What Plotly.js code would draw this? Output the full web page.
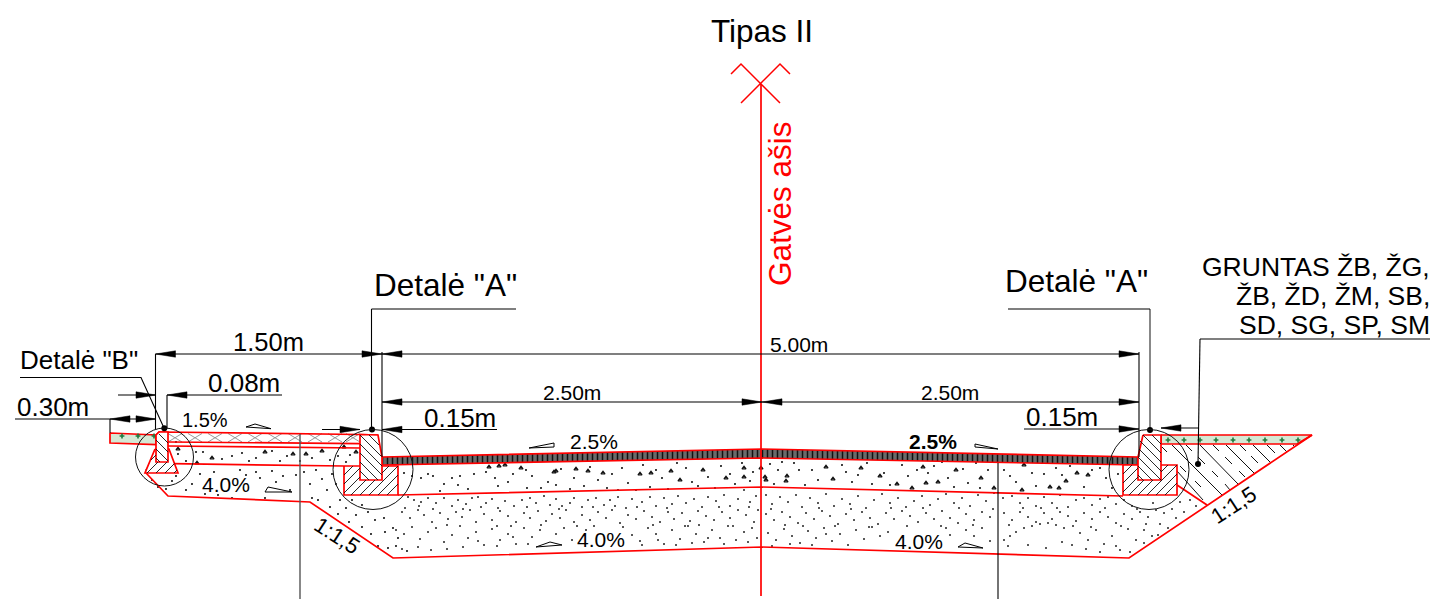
<!DOCTYPE html>
<html><head><meta charset="utf-8">
<script src="https://cdn.plot.ly/plotly-3.0.1.min.js"></script>
<style>html,body{margin:0;padding:0;background:#fff}</style></head>
<body><div id="chart" style="width:1436px;height:599px"></div>
<script>
// Outlines
const outerProfile=[[146,473],[168,496],[310,502],[393,558],[762,547],[1129,558],[1312,435]];
const baseDivider=[[398,495],[762,487],[1123,496]];
const sidewalkTop=[[156,435],[159,432],[360,434.5],[378,435]];
const sidewalkLayer1=[[168,442],[360,443.6]];
const sidewalkLayer2=[[168,446],[360,448]];
const sidewalkLayer3=[[172,463.7],[344,466]];
const rightToe=[[1177,485],[1207,505]];
const roadSurface=[[382,457],[762,449],[1138,457],[1138,465],[762,458],[382,465],[382,457]];
const greenLeft=[[110,433],[156,435],[156,444.5],[110,443],[110,433]];
const greenRight=[[1161,435],[1312,435],[1297,444],[1161,444],[1161,435]];
const curbBBase=[[155,449],[145,473],[178,473],[169,449],[155,449]];
const curbB=[[156,435],[159,432],[168,432],[168,462],[156,462],[156,435]];
const curbABaseL=[[344,466],[398,466],[398,495],[344,495],[344,466]];
const curbAL=[[360,434.5],[378,435],[382,457],[382,480],[360,480],[360,434.5]];
const curbABaseR=[[1123,465],[1177,465],[1177,495],[1123,495],[1123,465]];
const curbAR=[[1143,435],[1161,435],[1161,480],[1138,480],[1138,457],[1143,435]];
const axisLine=[[761,84],[761,596]];
const axisCrossA=[[731,74],[741,64],[780,103]];
const axisCrossB=[[741,103],[780,64],[790,74]];
const curbHatch=[
 [[369,435],[379,445]],[[360,435],[381,456]],[[360,444],[382,466]],[[360,453],[382,475]],[[360,462],[378,480]],[[360,471],[369,480]],
 [[344,475],[353,466]],[[344,484],[360,468]],[[344,493],[360,477]],[[351,495],[366,480]],[[360,495],[375,480]],[[369,495],[398,466]],[[378,495],[398,475]],[[387,495],[398,484]],[[382,473],[389,466]],
 [[1152,435],[1161,444]],[[1143,435],[1161,453]],[[1140,441],[1161,462]],[[1139,449],[1161,471]],[[1138,457],[1161,480]],[[1138,466],[1152,480]],[[1138,475],[1143,480]],
 [[1123,474],[1132,465]],[[1123,483],[1138,468]],[[1123,492],[1138,477]],[[1129,495],[1144,480]],[[1138,495],[1153,480]],[[1147,495],[1177,465]],[[1156,495],[1177,474]],[[1165,495],[1177,483]],[[1161,472],[1168,465]],
 [[159,434],[168,443]],[[156,440],[168,452]],[[156,449],[168,461]],[[156,458],[160,462]],
 [[151,460],[156,455]],[[147,473],[158,462]],[[156,473],[167,462]],[[165,473],[174.5,463.5]],[[174,473],[177,470]]
];

const blackLines=[
 [[155.5,354],[382,354]],[[382,354],[1139,354]],[[382,402],[1139,402]],
 [[155.5,354],[155.5,429]],[[382,352],[382,457]],[[1139,352],[1139,457]],
 [[371.5,309],[516,309]],[[371.5,309],[371.5,430]],
 [[322,429.5],[360,429.5]],[[382,429.5],[497,429.5]],
 [[118,395],[156,395]],[[167,395],[282,395]],[[167,395],[167,428]],
 [[15,419],[156,419]],[[110,419],[110,433]],
 [[20,377.5],[141,377.5],[164,428]],
 [[1024,429],[1139,429]],[[1161,428],[1199,428]],
 [[1008,309],[1150,309]],[[1200,339],[1430,339]],[[1200,339],[1198,464]],
 [[998,463],[998,599]]
];
const greyLines=[[[300,434],[300,599]],[[1150,309],[1150,430]]];
const arrowTipX=[155.5,382,382,1139,382,762,762,1139,360,382,156,167,110,156,1139,1161];
const arrowY=[354,354,354,354,402,402,402,402,429.5,429.5,395,395,419,419,429,428];
const arrowDir=[1,-1,1,-1,1,-1,1,-1,-1,1,-1,1,1,-1,-1,1];
const blackDots=[[164.3,428.3],[372,429.5],[1150,430],[1198,464]];
const circles=[[164.5,457,29],[373,469.5,40],[1149,469.5,40]];
const slopeMarks=[
 [[529,448],[554,443],[554,447],[529,448]],[[975,444],[998,449],[975,447],[975,444]],
 [[246,427],[271,428.7],[255,424],[246,427]],[[265,492],[292,492],[268,487],[265,492]],
 [[536,547],[562,545],[550,542],[536,547]],[[958,547],[983,548],[965,543],[958,547]]
];
const soilSolid=[
 [[1177,471],[1203,500]],[[1172,445],[1222,495]],[[1200,445],[1238,484]],
 [[1226,445],[1254,473]],[[1253,445],[1270,462]],[[1280,445],[1287,452]]
];
const soilDash=[
 [[1162,447],[1167,452]],[[1180,466],[1186,472]],[[1195,481],[1201,487]],
 [[1186,445],[1192,451]],[[1198,457],[1205,464]],[[1212,471],[1218,477]],[[1225,484],[1230,490]],
 [[1213,445],[1219,451]],[[1225,457],[1232,464]],[[1239,471],[1245,477]],
 [[1240,445],[1246,451]],[[1251,456],[1258,463]],[[1267,445],[1275,453]],[[1293,445],[1295,447]]
];
const crossCentres=[175,195,215,235,255,275,295,315,335,353];
const greenMarksX=[122,138,154,1168,1184,1200,1216,1233,1249,1265,1282,1298];
const greenMarksY=[436,436,436,440,440,440,440,440,440,440,440,440];

const coarseTriangles=[
 [489,467],[499,466],[505,465],[521,468],[554,472],[556,471],[576,469],[588,471],[603,473],[640,474],[651,473],[671,471],[703,470],
 [680,480],[726,478],[744,477],[761,468],[765,477],[766,480],[744,468],[787,476],[786,481],[833,479],[861,468],[880,476],[923,467],[938,482],
 [826,467],[897,484],[912,488],[926,483],[956,470],[981,478],[994,488],[1024,465],[1022,490],[1050,487],[1059,488],[1077,473],[1088,475],[1066,481],
 [197,463],[212,458],[265,452],[293,454],[306,454],[344,447],[356,452],[322,451],[178,449],[148,469]
];
const coarseDots=[
 [404,473],[412,476],[421,478],[428,474],[433,476],[440,491],[444,484],[452,478],[460,476],[458,485],[468,489],[474,474],[486,472],[495,478],[498,486],[508,482],[513,474],[526,470],[527,488],[532,476],[541,488],[548,482],[556,485],[561,469],[570,489],[574,478],[584,486],[590,467],[598,480],[607,488],[612,474],[618,490],[622,468],[628,483],[636,490],[643,465],[650,487],[656,470],[662,478],[668,489],[677,463],[686,468],[692,482],[698,486],[708,477],[715,488],[721,466],[730,474],[735,484],[742,463],[750,481],[753,472],[770,464],[774,484],[778,470],[782,462],[794,463],[799,470],[805,485],[812,470],[818,480],[842,465],[846,472],[852,482],[858,475],[867,463],[872,484],[884,473],[890,485],[902,465],[908,476],[917,470],[928,473],[934,466],[942,462],[948,478],[954,487],[963,469],[968,483],[976,463],[980,488],[988,470],[1004,470],[1010,476],[1016,482],[1032,473],[1036,486],[1044,474],[1056,468],[1062,475],[1070,466],[1084,487],[1092,470],[1100,468],[1106,478],[1112,488],[1118,474],
 [178,454],[186,461],[203,452],[222,459],[232,456],[242,453],[249,461],[256,458],[272,451],[280,461],[287,456],[300,461],[312,458],[330,460],[338,456],[346,462],[350,455],[176,442],[196,452],
 [152,480],[158,487],[166,489],[172,481],[176,476],[186,490],[192,484],[200,474],[205,494],[214,472],[218,495],[232,498],[240,470],[246,475],[256,472],[260,478],[265,498],[272,471],[276,482],[283,476],[290,490],[296,475],[304,472],[310,484],[316,470],[322,479],[327,490],[332,474],[336,484],[318,500],[340,500],[330,507],[312,498],[352,500],[346,508],[338,514],[362,505],[356,515],[349,522],[368,512],[375,520],[362,527],[384,518],[371,534],[385,532],[393,528],[378,546],[388,548],[396,546],[407,551],[398,538]
];
const fineDots=[
 [408,497],[414,500],[421,502],[428,498],[436,503],[444,498],[452,506],[458,500],[466,504],[472,498],[478,497],[486,503],[492,499],[498,508],[505,501],[514,506],[522,500],[530,498],[536,503],[544,496],[550,505],[556,499],[562,506],[570,503],[574,498],[582,507],[588,500],[596,498],[604,505],[610,500],[618,497],[626,508],[632,499],[642,502],[650,497],[656,506],[664,498],[672,504],[678,496],[686,503],[694,499],[702,507],[708,497],[716,501],[724,495],[730,506],[738,499],[744,490],[750,502],[756,496],
 [402,512],[410,518],[418,510],[424,515],[432,522],[440,513],[448,519],[456,512],[462,517],[470,510],[476,522],[484,514],[492,520],[500,511],[508,516],[516,522],[524,513],[530,518],[538,511],[546,521],[552,514],[560,518],[566,510],[574,522],[582,515],[590,520],[598,512],[606,518],[612,510],[620,523],[628,515],[636,519],[644,511],[652,517],[660,522],[668,512],[674,519],[682,513],[690,521],[698,511],[706,516],[714,520],[722,512],[730,518],[738,510],[746,515],[754,522],[758,510],
 [396,530],[404,534],[412,527],[420,539],[428,532],[436,528],[444,542],[452,535],[460,526],[468,538],[476,532],[484,545],[492,529],[500,540],[508,534],[516,544],[524,528],[532,537],[540,530],[556,534],[564,528],[572,540],[586,530],[594,526],[632,535],[640,541],[648,528],[656,534],[664,544],[672,530],[680,539],[688,526],[696,534],[704,542],[712,530],[720,538],[728,526],[736,540],[744,532],[752,528],[757,538],
 [766,495],[772,504],[780,497],[788,502],[796,495],[802,507],[810,498],[818,503],[826,494],[834,506],[842,499],[850,504],[858,496],[866,508],[874,500],[882,494],[890,503],[898,498],[906,507],[914,501],[922,496],[930,505],[938,499],[946,494],[954,503],[962,498],[970,506],[978,495],[986,501],[994,493],[1003,498],[1012,496],[1020,503],[1028,498],[1036,506],[1044,497],[1052,503],[1060,495],[1068,507],[1076,500],[1084,498],[1092,505],[1100,499],[1108,497],[1116,504],[1124,500],[1132,506],
 [766,514],[774,520],[782,512],[790,517],[798,523],[806,513],[814,519],[822,511],[830,516],[838,524],[846,514],[854,520],[862,512],[870,518],[878,524],[886,513],[894,519],[902,511],[910,516],[918,522],[926,513],[934,519],[942,511],[950,518],[958,523],[966,514],[974,520],[982,512],[990,517],[1004,513],[1012,520],[1020,512],[1028,517],[1036,522],[1044,513],[1052,519],[1060,512],[1068,516],[1076,521],[1084,513],[1092,519],[1100,512],[1108,517],[1116,523],[1124,514],[1132,519],[1140,512],[1148,517],[1156,510],[1164,513],[1172,509],[1180,502],[1190,500],[1196,506],
 [768,533],[776,540],[784,529],[792,536],[800,543],[808,531],[816,538],[824,528],[832,541],[840,534],[848,545],[856,530],[864,539],[872,527],[880,536],[888,532],[950,535],[946,528],[966,530],[974,536],[982,528],[990,541],[1004,540],[1010,536],[1016,532],[1024,528],[1032,526],[1040,524],[1048,523],[1056,525],[1064,528],[1072,545],[1080,533],[1088,540],[1096,530],[1104,544],[1112,536],[1120,550],[1128,529],[1136,540],[1144,530],[1152,536],[1160,524],[1168,528],[1176,518],[1184,512],
 [405,508],[419,506],[433,509],[447,525],[463,509],[481,507],[497,526],[511,526],[527,507],[541,525],[559,509],[577,526],[593,507],[615,506],[623,527],[637,507],[653,525],[667,508],[685,526],[699,525],[719,507],[733,526],[749,507],[771,509],[785,525],[803,526],[819,508],[835,526],[851,509],[869,527],[891,508],[907,526],[923,508],[941,526],[959,508],[973,525],[993,509],[1009,525],[1023,508],[1041,508],[1057,508],[1073,526],[1091,527],[1105,508],[1121,526],[1137,509],[1153,503],[1146,524],
 [402,549],[418,547],[431,550],[447,549],[463,547],[478,541],[497,546],[513,537],[528,544],[642,545],[658,540],[676,545],[692,543],[708,538],[724,544],[748,542],[772,546],[790,544],[812,545],[826,534],[1008,546],[1028,545],[1046,548],[1062,542],[1086,549],[1100,552],[1116,546],[1130,552],[1144,543],[1158,535]
];
const labels=[
 ['Tipas II',762,31,31.5,0,'#000'],['Gatvės ašis',780,204,31.5,-90,'#f00'],
 ['Detalė "A"',445.5,285,31.5,0,'#000'],['Detalė "A"',1076.5,281,31.5,0,'#000'],
 ['Detalė "B"',79,360,26,0,'#000'],['1.50m',268.5,342,25.5,0,'#000'],['0.08m',244,383,26,0,'#000'],
 ['0.30m',53,407,26,0,'#000'],['0.15m',460,418,26,0,'#000'],['0.15m',1062,417,26,0,'#000'],
 ['5.00m',799,344,21,0,'#000'],['2.50m',572,392,21,0,'#000'],['2.50m',950,392,21,0,'#000'],
 ['1.5%',205,420,20,0,'#000'],['2.5%',594,441,21,0,'#000'],['<b>2.5%</b>',933,441,21,0,'#000'],
 ['4.0%',226,484,21,0,'#000'],['4.0%',601,539,21,0,'#000'],['4.0%',919,541,21,0,'#000'],
 ['1:1,5',337,535,22,33,'#000'],['1:1,5',1233,505,22,-33,'#000']
];
const soilNote=['GRUNTAS ŽB, ŽG,','ŽB, ŽD, ŽM, SB,','SD, SG, SP, SM'];
const soilNoteY=[267,296,325];

const RED='#ff0000';
const xs=p=>p.map(q=>q[0]), ys=p=>p.map(q=>q[1]);
const base={type:'scatter',mode:'lines',hoverinfo:'skip',showlegend:false};
const join=list=>{const o=[];list.forEach((s,i)=>{if(i)o.push([null,null]);o.push(...s)});return o};
const line=(p,color,width,extra)=>Object.assign({},base,{x:xs(p),y:ys(p),line:{color:color,width:width}},extra||{});
const poly=(p,fill,pat)=>line(p,RED,1.7,Object.assign({fill:'toself',fillcolor:fill},pat?{fillpattern:pat}:{}));
const arrows=arrowTipX.map((t,i)=>[[t,arrowY[i]],[t+arrowDir[i]*20,arrowY[i]-3.2],[t+arrowDir[i]*20,arrowY[i]+3.2],[t,arrowY[i]]]);
const crossSegs=[];crossCentres.forEach(c=>{crossSegs.push([[c-7,433.5],[c+7,442]]);crossSegs.push([[c+7,433.5],[c-7,442]])});

const traces=[
 Object.assign({},base,{mode:'markers',x:xs(fineDots),y:ys(fineDots),marker:{size:2,color:'#222'}}),
 Object.assign({},base,{mode:'markers',x:xs(coarseDots),y:ys(coarseDots),marker:{size:2.1,color:'#111'}}),
 Object.assign({},base,{mode:'markers',x:xs(coarseTriangles),y:ys(coarseTriangles),marker:{size:3.6,symbol:'triangle-up-open',color:'#111',line:{width:1.1,color:'#111'}}}),
 line(join(soilSolid),'#111',1),
 line(join(soilDash),'#111',1),
 line(join(crossSegs),'#999',1),
 poly(greenLeft,'#d5e8d4'),poly(greenRight,'#d5e8d4'),
 Object.assign({},base,{mode:'markers',x:greenMarksX,y:greenMarksY,marker:{size:4,symbol:'cross',color:'#1f7a3c'}}),
 line(outerProfile,RED,1.7),line(baseDivider,RED,1.7),line(sidewalkTop,RED,1.7),
 line(sidewalkLayer1,RED,1.7),line(sidewalkLayer2,RED,1.7),line(sidewalkLayer3,RED,1.7),line(rightToe,RED,1.7),
 poly(roadSurface,'#555',{shape:'|',size:5,solidity:0.3,fgcolor:'#111',bgcolor:'#6a6a6a'}),
 poly(curbBBase,'#fff'),poly(curbB,'#fff'),
 poly(curbABaseL,'#fff'),poly(curbAL,'#fff'),
 poly(curbABaseR,'#fff'),poly(curbAR,'#fff'),
 line(join(curbHatch),'#111',0.9),
 line(axisLine,RED,1.7),line(axisCrossA,RED,1.5),line(axisCrossB,RED,1.5),
 line(join(greyLines),'#555',1.4),
 line(join(blackLines),'#000',1.1),
 line(join(slopeMarks),'#000',1),
 line(join(arrows),'#000',0.5,{fill:'toself',fillcolor:'#000'}),
 Object.assign({},base,{mode:'markers',x:xs(blackDots),y:ys(blackDots),marker:{size:6,color:'#000'}})
];
const FONT='"Liberation Sans", Arial, sans-serif';
const annotations=labels.map(l=>({text:l[0],x:l[1],y:l[2],xref:'x',yref:'y',showarrow:false,xanchor:'center',yanchor:'middle',textangle:l[4],font:{family:FONT,size:l[3],color:l[5]}}));
soilNote.forEach((t,i)=>annotations.push({text:t,x:1432,y:soilNoteY[i],xref:'x',yref:'y',showarrow:false,xanchor:'right',yanchor:'middle',font:{family:FONT,size:26.5,color:'#000'}}));
const shapes=circles.map(c=>({type:'circle',xref:'x',yref:'y',x0:c[0]-c[2],x1:c[0]+c[2],y0:c[1]-c[2],y1:c[1]+c[2],line:{color:'#111',width:1}}));
Plotly.newPlot('chart',traces,{
 width:1436,height:599,margin:{l:0,r:0,t:0,b:0},paper_bgcolor:'#fff',plot_bgcolor:'#fff',showlegend:false,
 xaxis:{range:[0,1436],visible:false,fixedrange:true},
 yaxis:{range:[599,0],visible:false,fixedrange:true},
 annotations:annotations,shapes:shapes
},{staticPlot:true,displayModeBar:false});
</script></body></html>
